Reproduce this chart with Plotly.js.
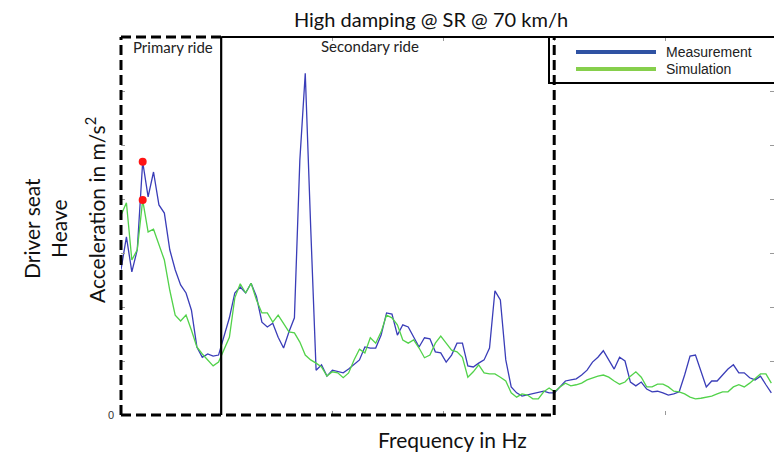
<!DOCTYPE html>
<html>
<head>
<meta charset="utf-8">
<script src="https://cdn.plot.ly/plotly-3.0.1.min.js"></script>
<style>html,body{margin:0;padding:0;background:#fff;}#chart{width:774px;height:455px;}</style>
</head>
<body>
<div id="chart"></div>
<script>
// Frequency bins (Hz): first bin and bin width of the spectrum
const freqStart = 0.488;
const freqStep = 0.2441;

// Driver seat heave acceleration spectrum (m/s^2)
const measurement = [
  2.69,3.30,2.65,3.06,4.69,4.04,4.50,3.89,3.74,3.06,2.69,2.41,2.26,1.94,1.26,1.07,1.13,1.09,1.11,
  1.48,1.80,2.26,2.37,2.26,2.44,2.19,1.72,1.63,1.70,1.44,1.24,1.54,1.80,4.72,6.33,3.48,0.83,0.93,0.72,0.83,0.80,
  0.78,0.85,0.93,1.02,1.26,1.24,1.24,1.48,1.89,1.87,1.48,1.67,1.63,1.44,1.26,1.43,1.41,1.17,1.15,0.98,
  1.11,1.33,1.33,0.91,0.89,0.96,1.02,1.24,2.30,2.13,1.02,0.52,0.41,0.35,0.37,0.39,0.41,0.44,0.41,0.41,
  0.52,0.63,0.65,0.67,0.74,0.83,0.98,1.07,1.19,1.02,0.85,1.07,1.00,0.61,0.54,0.61,0.48,0.43,0.44,0.41,
  0.37,0.39,0.43,0.74,1.09,1.11,0.83,0.52,0.63,0.63,0.74,0.85,0.93,0.78,0.78,0.69,0.65,0.72,0.56,0.41
];
const simulation = [
  3.70,3.93,2.87,3.06,3.98,3.39,3.44,3.15,2.87,2.31,1.85,1.74,1.85,1.57,1.26,1.13,1.02,0.91,0.98,
  1.20,1.44,2.17,2.43,2.26,2.44,2.13,1.89,1.89,1.72,1.85,1.70,1.54,1.52,1.35,1.11,1.02,0.96,0.89,0.72,0.80,0.78,
  0.69,0.78,1.02,1.22,1.15,1.43,1.33,1.54,1.85,1.80,1.67,1.39,1.33,1.39,1.24,1.06,1.11,1.33,1.46,1.33,
  1.20,1.17,1.07,0.70,0.80,0.93,0.78,0.76,0.76,0.70,0.63,0.41,0.33,0.39,0.37,0.30,0.30,0.43,0.50,0.43,
  0.52,0.59,0.54,0.56,0.59,0.65,0.69,0.72,0.74,0.70,0.63,0.57,0.61,0.72,0.80,0.70,0.52,0.52,0.57,0.57,
  0.52,0.44,0.43,0.39,0.33,0.30,0.31,0.33,0.35,0.39,0.43,0.43,0.52,0.56,0.52,0.59,0.67,0.76,0.76,0.59
];
const peakIndex = 4;               // primary ride peak marked in red
const seriesNames = ['Measurement', 'Simulation'];
const regionLabels = ['Primary ride', 'Secondary ride'];
const regionBounds = [5, 20];      // Hz
const yLabelVals = [0];
const yLabelText = ['0'];
const yTickVals = [1,2,3,4,5,6,7];
const xTickVals = [5,10,15,20,25];

const freqs = measurement.map((_, i) => +(freqStart + i * freqStep).toFixed(4));
const xr = [freqStart, 29.9];
const yr = [0, 7];
const px = f => (f - xr[0]) / (xr[1] - xr[0]);

const blue = '#3a3db8', green = '#52d24a';

const traces = [
  {x: freqs, y: measurement, type: 'scatter', mode: 'lines', name: seriesNames[0],
   line: {color: blue, width: 1.3}, showlegend: false},
  {x: freqs, y: simulation, type: 'scatter', mode: 'lines', name: seriesNames[1],
   line: {color: green, width: 1.3}, showlegend: false},
  {x: [freqs[peakIndex], freqs[peakIndex]], y: [measurement[peakIndex], simulation[peakIndex]],
   type: 'scatter', mode: 'markers', marker: {color: '#ff1414', size: 8}, showlegend: false,
   cliponaxis: false},
  // invisible carrier trace for the secondary tick axis
  {x: [xr[0]], y: [yr[0]], yaxis: 'y2', type: 'scatter', mode: 'markers',
   marker: {opacity: 0}, showlegend: false, hoverinfo: 'skip'}
];

const dash = '10px,5px';
const k = 'black';
const xb1 = px(regionBounds[0]), xb2 = px(regionBounds[1]);
const legX0 = (549 - 121) / 653, legY0 = (415 - 83) / 378;
const shapes = [
  // primary ride box
  {type: 'line', xref: 'paper', yref: 'paper', x0: 0, x1: 0, y0: 0, y1: 1, line: {color: k, width: 3, dash: dash}},
  {type: 'line', xref: 'paper', yref: 'paper', x0: 0, x1: xb1, y0: 1, y1: 1, line: {color: k, width: 3, dash: dash}},
  {type: 'line', xref: 'paper', yref: 'paper', x0: 0, x1: xb2, y0: 0, y1: 0, line: {color: k, width: 3, dash: dash}},
  {type: 'line', xref: 'paper', yref: 'paper', x0: xb1, x1: xb1, y0: 0, y1: 1, line: {color: k, width: 2.2}},
  // secondary ride box
  {type: 'line', xref: 'paper', yref: 'paper', x0: xb1, x1: 1.02, y0: 1, y1: 1, line: {color: k, width: 2.2}},
  {type: 'line', xref: 'paper', yref: 'paper', x0: xb2, x1: xb2, y0: 0, y1: 1, line: {color: k, width: 3, dash: dash}},
  // legend box
  {type: 'rect', xref: 'paper', yref: 'paper', x0: legX0, x1: 1.02, y0: legY0, y1: 1, line: {color: k, width: 2}, fillcolor: 'rgba(0,0,0,0)'},
  {type: 'line', xref: 'paper', yref: 'paper', x0: (576-121)/653, x1: (656-121)/653, y0: (415-52)/378, y1: (415-52)/378, line: {color: '#2f52a3', width: 4}},
  {type: 'line', xref: 'paper', yref: 'paper', x0: (576-121)/653, x1: (656-121)/653, y0: (415-69)/378, y1: (415-69)/378, line: {color: '#86cf4c', width: 4}}
];

const calib = 'Lato, "Open Sans", sans-serif';
const arial = 'Liberation Sans, Arial, sans-serif';
const annotations = [
  {text: regionLabels[0], xref: 'paper', yref: 'paper', x: (173-121)/653, y: (415-47)/378, showarrow: false,
   xanchor: 'center', yanchor: 'middle', font: {family: calib, size: 15, color: '#222'}},
  {text: regionLabels[1], xref: 'paper', yref: 'paper', x: (370-121)/653, y: (415-46)/378, showarrow: false,
   xanchor: 'center', yanchor: 'middle', font: {family: calib, size: 15, color: '#222'}},
  {text: seriesNames[0], xref: 'paper', yref: 'paper', x: (664-121)/653, y: (415-52)/378, showarrow: false,
   xanchor: 'left', yanchor: 'middle', font: {family: arial, size: 14, color: '#222'}},
  {text: seriesNames[1], xref: 'paper', yref: 'paper', x: (664-121)/653, y: (415-69)/378, showarrow: false,
   xanchor: 'left', yanchor: 'middle', font: {family: arial, size: 14, color: '#222'}},
  {text: 'Acceleration in m/s<sup>2</sup>', xref: 'paper', yref: 'paper', x: (95-121)/653, y: (415-210)/378,
   textangle: -90, showarrow: false, xanchor: 'center', yanchor: 'middle', font: {family: calib, size: 21, color: '#111'}},
  {text: 'Driver seat<br>Heave', xref: 'paper', yref: 'paper', x: (45-121)/653, y: (415-229)/378,
   textangle: -90, showarrow: false, xanchor: 'center', yanchor: 'middle', font: {family: calib, size: 21, color: '#111'}},
  {text: 'Frequency in Hz', xref: 'paper', yref: 'paper', x: (452-121)/653, y: (415-440)/378,
   showarrow: false, xanchor: 'center', yanchor: 'middle', font: {family: calib, size: 21, color: '#111'}}
];

const layout = {
  width: 774, height: 455,
  margin: {l: 121, r: 0, t: 37, b: 40},
  paper_bgcolor: '#fff', plot_bgcolor: '#fff',
  title: {text: 'High damping @ SR @ 70 km/h', x: (431-121)/653, xref: 'paper', xanchor: 'center',
          y: 1 - 20/455, yref: 'container', yanchor: 'middle', font: {family: calib, size: 20, color: '#111'}},
  xaxis: {range: xr, showgrid: false, zeroline: false, showline: false, ticks: 'inside', ticklen: 4,
          tickcolor: '#999', tickvals: xTickVals, showticklabels: false, mirror: 'ticks'},
  yaxis: {range: yr, showgrid: false, zeroline: false, showline: false, ticks: '',
          tickvals: yLabelVals, ticktext: yLabelText, ticklabelstandoff: 6,
          tickfont: {family: arial, size: 11, color: '#333'}},
  yaxis2: {range: yr, overlaying: 'y', side: 'left', showgrid: false, zeroline: false, showline: false,
           ticks: 'inside', ticklen: 4, tickcolor: '#999', tickvals: yTickVals, showticklabels: false,
           mirror: 'ticks'},
  shapes: shapes,
  annotations: annotations,
  showlegend: false
};

Plotly.newPlot('chart', traces, layout, {displayModeBar: false, staticPlot: true});
</script>
</body>
</html>
